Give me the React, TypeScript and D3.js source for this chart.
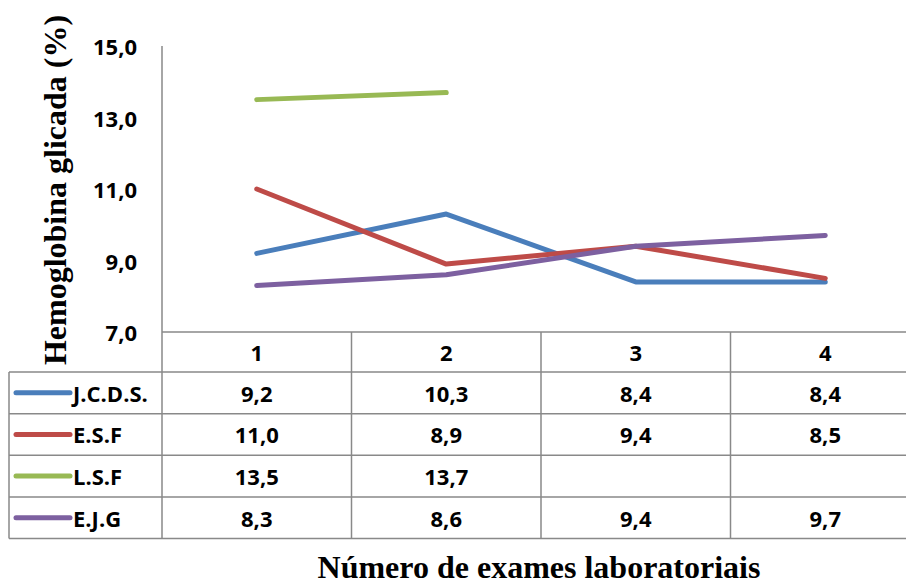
import React from "react";
import * as d3 from "d3";

// Exam number (x categories)
const categories = ["1", "2", "3", "4"];

// Patients and their glycated haemoglobin readings per exam
const seriesNames = ["J.C.D.S.", "E.S.F", "L.S.F", "E.J.G"];
const jcdsValues: (number | null)[] = [9.2, 10.3, 8.4, 8.4];
const esfValues: (number | null)[] = [11.0, 8.9, 9.4, 8.5];
const lsfValues: (number | null)[] = [13.5, 13.7, null, null];
const ejgValues: (number | null)[] = [8.3, 8.6, 9.4, 9.7];
const seriesColors = ["#4A7EBB", "#BE4B48", "#98B954", "#7D60A0"];

const yTicks = [7, 9, 11, 13, 15];

const W = 906;
const H = 587;
const fmt = (v: number) => d3.format(".1f")(v).replace(".", ",");

export default function App() {
  const allSeries = [jcdsValues, esfValues, lsfValues, ejgValues];

  const plotLeft = 162;
  const colW = 189.5;
  const plotTop = 46;
  const plotBottom = 332;
  const headerBottom = 372;
  const tableBottom = 538.5;
  const tableLeft = 9;
  const rowH = (tableBottom - headerBottom) / allSeries.length;

  const x = d3
    .scaleBand<string>()
    .domain(categories)
    .range([plotLeft, plotLeft + colW * categories.length])
    .padding(0);
  const y = d3.scaleLinear().domain([7, 15]).range([plotBottom, plotTop]);

  const cx = (c: string) => (x(c) as number) + x.bandwidth() / 2;

  const line = d3
    .line<number | null>()
    .defined((d) => d !== null)
    .x((_, i) => cx(categories[i]))
    .y((d) => y(d as number));

  const grid = "#898989";
  const numFont = "'Open Sans', sans-serif";
  const numSize = 22;
  const serif = "'Liberation Serif', 'Times New Roman', serif";

  return (
    <svg
      width={W}
      height={H}
      style={{ position: "absolute", left: 0, top: 0, background: "#fff" }}
    >
      <rect x={0} y={0} width={W} height={H} fill="#fff" />

      {/* y tick labels */}
      {yTicks.map((t) => (
        <text
          key={t}
          x={137}
          y={y(t)}
          textAnchor="end"
          dominantBaseline="central"
          fontFamily={numFont}
          fontWeight={700}
          fontSize={numSize}
          fill="#000"
        >
          {fmt(t)}
        </text>
      ))}

      {/* table grid */}
      <g stroke={grid} strokeWidth={1.5} fill="none">
        <line x1={plotLeft} x2={plotLeft} y1={plotTop} y2={tableBottom} />
        <line x1={plotLeft} x2={W} y1={plotBottom} y2={plotBottom} />
        <line x1={tableLeft} x2={tableLeft} y1={headerBottom} y2={tableBottom} />
        {d3.range(allSeries.length + 1).map((i) => (
          <line
            key={"r" + i}
            x1={tableLeft}
            x2={W}
            y1={headerBottom + i * rowH}
            y2={headerBottom + i * rowH}
          />
        ))}
        {categories.slice(1).map((c) => (
          <line
            key={"c" + c}
            x1={x(c) as number}
            x2={x(c) as number}
            y1={plotBottom}
            y2={tableBottom}
          />
        ))}
      </g>

      {/* series lines */}
      {allSeries.map((s, i) => (
        <path
          key={seriesNames[i]}
          d={line(s) || ""}
          fill="none"
          stroke={seriesColors[i]}
          strokeWidth={5}
          strokeLinecap="round"
          strokeLinejoin="round"
        />
      ))}

      {/* header row: category labels */}
      {categories.map((c) => (
        <text
          key={"h" + c}
          x={cx(c)}
          y={(plotBottom + headerBottom) / 2}
          textAnchor="middle"
          dominantBaseline="central"
          fontFamily={numFont}
          fontWeight={700}
          fontSize={numSize}
        >
          {c}
        </text>
      ))}

      {/* data rows */}
      {allSeries.map((s, i) => {
        const cy = headerBottom + rowH * (i + 0.5);
        return (
          <g key={"row" + i}>
            <line
              x1={16}
              x2={70}
              y1={cy}
              y2={cy}
              stroke={seriesColors[i]}
              strokeWidth={5}
              strokeLinecap="round"
            />
            <text
              x={73}
              y={cy}
              dominantBaseline="central"
              fontFamily={numFont}
              fontWeight={700}
              fontSize={numSize}
            >
              {seriesNames[i]}
            </text>
            {s.map((v, j) =>
              v === null ? null : (
                <text
                  key={j}
                  x={cx(categories[j])}
                  y={cy}
                  textAnchor="middle"
                  dominantBaseline="central"
                  fontFamily={numFont}
                  fontWeight={700}
                  fontSize={numSize}
                >
                  {fmt(v)}
                </text>
              )
            )}
          </g>
        );
      })}

      {/* axis titles */}
      <text
        transform={`translate(66, 190) rotate(-90)`}
        textAnchor="middle"
        fontFamily={serif}
        fontWeight={700}
        fontSize={32}
      >
        Hemoglobina glicada (%)
      </text>
      <text
        x={539}
        y={578}
        textAnchor="middle"
        fontFamily={serif}
        fontWeight={700}
        fontSize={32}
      >
        Número de exames laboratoriais
      </text>
    </svg>
  );
}
